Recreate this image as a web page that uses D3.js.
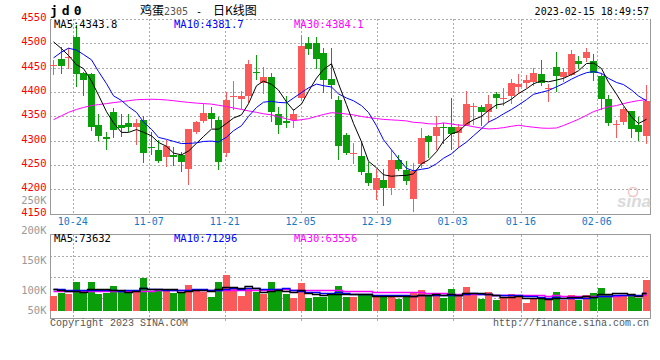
<!DOCTYPE html>
<html>
<head>
<meta charset="utf-8">
<script src="https://d3js.org/d3.v7.min.js"></script>
<style>
body{margin:0;background:#fff;}
text{font-family:"DejaVu Sans Mono",monospace;}
</style>
</head>
<body>
<script>
// trading days shown (10-19 .. 02-15)
var dates=["10-19","10-20","10-21","10-24","10-25","10-26","10-27","10-28","10-31",
"11-01","11-02","11-03","11-04","11-07","11-08","11-09","11-10","11-11","11-14","11-15","11-16","11-17","11-18","11-21","11-22","11-23","11-24","11-25","11-28","11-29","11-30",
"12-01","12-02","12-05","12-06","12-07","12-08","12-09","12-12","12-13","12-14","12-15","12-16","12-19","12-20","12-21","12-22","12-23","12-26","12-27","12-28","12-29","12-30",
"01-03","01-04","01-05","01-06","01-09","01-10","01-11","01-12","01-13","01-16","01-17","01-18","01-19","01-20","01-30","01-31",
"02-01","02-02","02-03","02-06","02-07","02-08","02-09","02-10","02-13","02-14","02-15"];

var open=[4455,4467,4470,4512,4439,4436,4331,4307,4358,4333,4336,4328,4342,4287,4280,4265,4271,4270,4240,4318,
4340,4357,4342,4275,4390,4384,4393,4442,4417,4430,4355,4341,4342,4388,4501,4501,4480,4426,4383,4311,
4273,4268,4234,4197,4219,4203,4260,4239,4181,4253,4309,4310,4327,4328,4315,4332,4369,4370,4358,4395,
4385,4392,4410,4418,4420,4437,4407,4452,4432,4434,4463,4470,4463,4433,4386,4333,4338,4360,4332,4308];
var high=[4466,4493,4491,4538,4442,4438,4354,4318,4366,4354,4354,4345,4351,4318,4302,4302,4287,4277,4324,4340,
4376,4369,4348,4400,4422,4401,4465,4476,4451,4439,4368,4392,4364,4518,4514,4514,4491,4491,4392,4315,
4295,4297,4255,4241,4241,4280,4270,4257,4253,4325,4311,4350,4337,4388,4335,4401,4378,4373,4393,4400,
4409,4426,4437,4434,4449,4465,4417,4482,4449,4487,4473,4491,4477,4439,4393,4342,4368,4361,4349,4415];
var low=[4434,4436,4448,4410,4392,4320,4299,4280,4305,4307,4318,4290,4253,4270,4253,4245,4248,4235,4208,4314,
4337,4325,4239,4267,4362,4364,4378,4424,4395,4338,4313,4325,4325,4381,4476,4448,4398,4386,4261,4270,
4252,4229,4207,4177,4166,4188,4237,4209,4154,4243,4265,4280,4292,4280,4284,4329,4332,4330,4336,4364,
4372,4375,4396,4408,4412,4412,4379,4400,4420,4432,4448,4461,4422,4362,4330,4306,4332,4306,4300,4292];
var close=[4456,4453,4472,4435,4424,4328,4308,4302,4320,4326,4328,4337,4274,4284,4258,4288,4267,4256,4323,4338,
4357,4344,4255,4383,4392,4391,4458,4440,4430,4359,4332,4336,4354,4495,4489,4468,4425,4413,4289,4274,
4275,4236,4213,4222,4202,4260,4242,4216,4238,4306,4297,4328,4325,4314,4328,4376,4371,4359,4375,4386,
4387,4419,4416,4424,4438,4418,4408,4434,4442,4477,4457,4482,4439,4386,4336,4334,4364,4323,4318,4381];

var ma5=[4503,4489,4475,4456,4448.0,4422.4,4393.4,4359.4,4336.4,4316.8,4316.8,4322.6,4317.0,4309.8,4296.2,4288.2,4274.2,4270.6,4278.4,4294.4,
4308.2,4323.6,4323.4,4335.4,4346.2,4353.0,4375.8,4412.8,4422.2,4415.6,4403.8,4379.4,4362.2,4375.2,4401.2,4428.4,4446.2,4458.0,4416.8,4373.8,
4335.2,4297.4,4257.4,4244.0,4229.6,4226.6,4227.8,4228.4,4231.6,4252.4,4259.8,4277.0,4298.8,4314.0,4318.4,4334.2,4342.8,4349.6,4361.8,4373.4,
4375.6,4385.2,4396.6,4406.4,4416.8,4423.0,4420.8,4424.4,4428.0,4435.8,4443.6,4458.4,4459.4,4448.2,4420.0,4395.4,4371.8,4348.6,4335.0,4343.8];
var ma10=[4470,4482,4490,4486,4477,4466,4442,4417,4392,4382.4,4369.6,4358.0,4338.2,4323.1,4306.5,4302.5,4298.4,4293.8,4294.1,4295.3,
4298.2,4298.9,4297.0,4306.9,4320.3,4330.6,4349.7,4368.1,4378.8,4380.9,4378.4,4377.6,4387.5,4398.7,4408.4,4416.1,4412.8,4410.1,4396.0,4387.5,
4381.8,4371.8,4357.7,4330.4,4301.7,4280.9,4262.6,4242.9,4237.8,4241.0,4243.2,4252.4,4263.6,4272.8,4285.4,4297.0,4309.9,4324.2,4337.9,4345.9,
4354.9,4364.0,4373.1,4384.1,4395.1,4399.3,4403.0,4410.5,4417.2,4426.3,4433.3,4439.6,4441.9,4438.1,4427.9,4419.5,4415.1,4404.0,4391.6,4381.7];
var ma30=[4343,4351,4358,4364,4368,4372,4374,4376,4378,4380,4382,4384,4384.5,4385,4384.5,4383.5,4382,4380,4378.5,4377,
4376,4375,4372.5,4370,4367,4364,4361,4358,4355,4352.9,4348.7,4344.8,4340.9,4342.9,4345.1,4349.7,4353.6,4357.3,4356.3,4354.6,
4352.8,4349.4,4347.4,4345.3,4343.5,4342.5,4341.7,4340.4,4337.5,4336.5,4334.5,4333.9,4336.3,4334.0,4331.8,4331.3,4328.4,4325.7,4323.9,4324.8,
4326.6,4329.4,4331.5,4329.1,4327.4,4325.7,4325.2,4325.9,4331.0,4337.7,4343.8,4352.0,4359.5,4365.0,4369.5,4371.9,4376.0,4379.6,4382.2,4384.1];

// volume in thousand lots
var vol=[60,71,68,116,77,116,68,73,100,77,77,81,133,80,80,81,71,77,104,91,
77,56,116,145,97,60,93,77,68,116,81,68,53,112,53,57,57,73,100,57,
56,64,64,60,64,60,48,64,77,84,60,60,53,88,60,97,68,48,77,43,
57,68,57,33,48,54,43,77,46,64,46,64,73,93,68,64,64,64,53,125];
var volMa5=[88,85,82,80,78.4,89.6,89.0,90.0,86.8,86.8,79.0,81.6,93.6,89.6,90.2,91.0,89.0,77.8,82.6,84.8,
84.0,81.0,88.8,97.0,98.2,94.8,102.2,94.4,79.0,82.8,87.0,82.0,77.2,86.0,73.4,68.6,66.4,70.4,68.0,68.8,
68.6,70.0,68.2,60.2,61.6,62.4,59.2,59.2,62.6,66.6,66.6,69.0,66.8,69.0,64.2,71.6,73.2,72.2,70.0,66.6,
58.6,58.6,60.4,51.6,52.6,52.0,47.0,51.0,53.6,56.8,55.2,59.4,58.6,68.0,68.8,72.4,72.4,70.6,62.6,73.632];
var volMa10=[88,88,87,87,87,86,86,86,84,82.6,84.3,85.3,91.8,88.2,88.5,85.0,85.3,85.7,86.1,87.5,
87.5,85.0,83.3,89.8,91.5,89.4,91.6,91.6,88.0,90.5,90.9,92.1,85.8,82.5,78.1,77.8,74.2,73.8,77.0,71.1,
68.6,68.2,69.3,64.1,65.2,65.5,64.6,63.7,61.4,64.1,64.5,64.1,63.0,65.8,65.4,69.1,71.1,69.5,69.5,65.4,
65.1,65.9,66.3,60.8,59.6,55.3,52.8,55.7,52.6,54.7,53.6,53.2,54.8,60.8,62.8,63.8,65.9,64.6,65.3,71.296];
var volMa30=[80,80,80,81,81,81,82,82,82,82,83,83,83,83,84,84,84,84,84,85,
85,85,85,85,86,86,86,86,86,86.9,87.6,87.5,87.0,86.8,86.0,84.1,83.7,83.7,83.7,83.0,
82.3,81.8,79.5,78.8,78.3,77.6,76.8,76.4,75.5,75.2,74.7,74.8,72.7,70.8,69.6,70.8,70.0,69.0,69.3,66.9,
66.1,66.1,66.2,63.6,63.4,63.3,62.8,63.0,61.2,61.4,61.1,61.1,61.4,62.5,62.6,62.7,63.3,63.3,62.5,63.556];

var priceTicks=[4550,4500,4450,4400,4350,4300,4250,4200,4150];
var volTicks=["250K","200K","150K","100K","50K"];
var dateTicks=["10-24","11-07","11-21","12-05","12-19","01-03","01-16","02-06"];

var W=660,H=360;
var L=50,R=650;
var pTop=19,pBot=213.5,vTop=234.5,vBot=318.5;
var RED="#fa5a5a",GREEN="#0a9e0a",GRID="#aaa";

var svg=d3.select("body").append("svg").attr("width",W).attr("height",H);

var idx=d3.range(dates.length);
var x=d3.scaleBand().domain(idx).range([L,R]).paddingInner(0.1).paddingOuter(0.05);
var gx=d3.scaleLinear().domain([0,dates.length-1]).range([L,R]);
var yP=d3.scaleLinear().domain([4150,4550]).range([pBot,pTop]);
var yV=d3.scaleLinear().domain([0,100]).range([311,286.35]);
var yVl=d3.scalePoint().domain(volTicks).range([200.5,320.5]);
var bw=Math.round(x.bandwidth());
function cx(i){return Math.round(x(i))+Math.floor(bw/2)+0.5;}
function up(i){return close[i]>=open[i];}

// grid
var grid=svg.append("g").attr("stroke",GRID).attr("stroke-dasharray","2,2").attr("shape-rendering","crispEdges");
grid.selectAll(".hp").data(priceTicks.slice(0,-1)).enter().append("line")
	.attr("x1",L).attr("x2",R).attr("y1",function(d){return Math.round(yP(d))+0.5;}).attr("y2",function(d){return Math.round(yP(d))+0.5;});
grid.selectAll(".vp").data(dateTicks).enter().append("line")
	.attr("x1",function(d){return Math.round(gx(dates.indexOf(d)))+0.5;}).attr("x2",function(d){return Math.round(gx(dates.indexOf(d)))+0.5;})
	.attr("y1",pTop).attr("y2",pBot);
grid.selectAll(".hv").data([1,2,3]).enter().append("line")
	.attr("x1",L).attr("x2",R).attr("y1",function(k){return Math.round(vTop+k*(vBot-vTop)/4)+0.5;}).attr("y2",function(k){return Math.round(vTop+k*(vBot-vTop)/4)+0.5;});
grid.selectAll(".vv").data(dateTicks).enter().append("line")
	.attr("x1",function(d){return Math.round(gx(dates.indexOf(d)))+0.5;}).attr("x2",function(d){return Math.round(gx(dates.indexOf(d)))+0.5;})
	.attr("y1",vTop).attr("y2",vBot+2);

// frames
var fr=svg.append("g").attr("stroke","#999").attr("fill","none").attr("shape-rendering","crispEdges");
fr.append("path").attr("d","M"+(L+0.5)+","+pTop+"V"+(pBot+0.5)+"H"+(R+0.5)+"V"+pTop);
fr.append("rect").attr("x",L+0.5).attr("y",vTop).attr("width",R-L).attr("height",vBot-vTop);

// sina watermark
svg.append("circle").attr("cx",633).attr("cy",192).attr("r",4.5).attr("fill","none").attr("stroke","#f3c4c4").attr("stroke-width",1.5);
svg.append("text").attr("x",617).attr("y",207).text("sina").attr("fill","#dadada")
	.style("font-family","'Liberation Sans',sans-serif").style("font-size","17px").style("font-weight","bold").style("font-style","italic");

// candles
var cg=svg.append("g").attr("shape-rendering","crispEdges");
cg.selectAll(".wick").data(idx).enter().append("line")
	.attr("x1",cx).attr("x2",cx)
	.attr("y1",function(i){return yP(high[i]);}).attr("y2",function(i){return yP(low[i]);})
	.attr("stroke",function(i){return up(i)?RED:GREEN;});
cg.selectAll(".body").data(idx).enter().append("rect")
	.attr("x",function(i){return Math.round(x(i));}).attr("width",bw)
	.attr("y",function(i){return Math.round(yP(Math.max(open[i],close[i])));})
	.attr("height",function(i){return Math.max(1,Math.round(Math.abs(yP(open[i])-yP(close[i]))));})
	.attr("fill",function(i){return up(i)?RED:GREEN;});

// price MAs
function pLine(arr){return d3.line().x(function(d,i){return cx(i);}).y(function(d){return yP(d);})(arr);}
[[ma30,"#f0f"],[ma10,"#00f"],[ma5,"#000"]].forEach(function(m){
	svg.append("path").attr("d",pLine(m[0])).attr("fill","none").attr("stroke",m[1]).attr("stroke-width",1);
});

// volume bars
var vg=svg.append("g").attr("shape-rendering","crispEdges");
vg.selectAll("rect").data(idx).enter().append("rect")
	.attr("x",function(i){return Math.round(x(i));}).attr("width",bw)
	.attr("y",function(i){return Math.round(yV(vol[i]));})
	.attr("height",function(i){return yV(0)-Math.round(yV(vol[i]));})
	.attr("fill",function(i){return up(i)?RED:GREEN;});
function vLine(arr){return d3.line().curve(d3.curveStep).x(function(d,i){return cx(i);}).y(function(d){return Math.round(yV(d))+0.5;})(arr);}
[[volMa30,"#f0f"],[volMa10,"#00f"],[volMa5,"#000"]].forEach(function(m){
	svg.append("path").attr("d",vLine(m[0])).attr("fill","none").attr("stroke",m[1]).attr("stroke-width",1.3);
});

// axis labels
svg.selectAll(".pl").data(priceTicks).enter().append("text")
	.attr("x",46.5).attr("y",function(d){return yP(d)-1.5;}).attr("dy","0.35em").attr("text-anchor","end")
	.attr("fill","#f00").style("font-size","10.5px").text(function(d){return d;});
svg.selectAll(".vl").data(volTicks).enter().append("text")
	.attr("x",46.5).attr("y",function(d){return Math.min(yVl(d),310.5);}).attr("dy","0.35em").attr("text-anchor","end")
	.attr("fill","#999").style("font-size","10.5px").text(function(d){return d;});
svg.selectAll(".dl").data(dateTicks).enter().append("text")
	.attr("x",function(d){return gx(dates.indexOf(d));}).attr("y",224.5).attr("text-anchor","middle")
	.attr("fill","#1478c8").style("font-size","10px").text(function(d){return d;});

// headers
svg.append("text").attr("x",50).attr("y",14.5).text("jd0").attr("fill","#000")
	.style("font-size","13px").style("font-weight","bold").style("letter-spacing","4px");
var cjk="'Noto Sans CJK SC',sans-serif";
svg.append("text").attr("x",140).attr("y",15).style("font-family",cjk).style("font-size","12px").attr("fill","#000").text("鸡蛋");
svg.append("text").attr("x",164).attr("y",15).style("font-size","10px").attr("fill","#555").text("2305");
svg.append("text").attr("x",196).attr("y",15).style("font-size","10px").attr("fill","#000").text("-");
svg.append("text").attr("x",213).attr("y",15).style("font-family",cjk).style("font-size","12px").attr("fill","#000").text("日K线图");
svg.append("text").attr("x",649).attr("y",15).attr("text-anchor","end").style("font-size","10px").attr("fill","#000").text("2023-02-15 18:49:57");

var maTxt=[["MA5:4343.8","#000",54],["MA10:4381.7","#00f",174],["MA30:4384.1","#f0f",294]];
svg.selectAll(".mt").data(maTxt).enter().append("text")
	.attr("x",function(d){return d[2];}).attr("y",28).attr("fill",function(d){return d[1];})
	.style("font-size","10.5px").text(function(d){return d[0];});
var vmaTxt=[["MA5:73632","#000",54],["MA10:71296","#00f",174],["MA30:63556","#f0f",294]];
svg.selectAll(".vt").data(vmaTxt).enter().append("text")
	.attr("x",function(d){return d[2];}).attr("y",241.5).attr("fill",function(d){return d[1];})
	.style("font-size","10.5px").text(function(d){return d[0];});

svg.append("text").attr("x",50).attr("y",326).attr("fill","#555").style("font-family","'Liberation Mono',monospace").style("font-size","10px").text("Copyright 2023 SINA.COM");
svg.append("text").attr("x",649).attr("y",326).attr("text-anchor","end").attr("fill","#555").style("font-family","'Liberation Mono',monospace").style("font-size","10px").text("http://finance.sina.com.cn");
</script>
</body>
</html>
